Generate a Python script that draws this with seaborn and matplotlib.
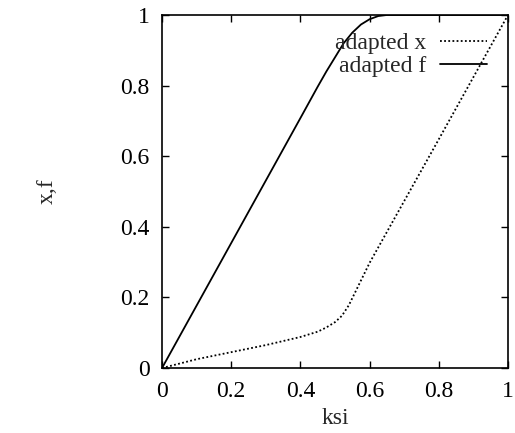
import matplotlib
matplotlib.use("Agg")
import matplotlib.pyplot as plt
import pandas as pd
import seaborn as sns

# values
ksi_f = [0.0, 0.1, 0.2, 0.3, 0.4, 0.45, 0.475, 0.5, 0.525, 0.55, 0.575, 0.6, 0.625, 0.65, 1.0]
adapted_f = [0.0, 0.177, 0.354, 0.531, 0.708, 0.797, 0.84, 0.88, 0.92, 0.95, 0.973, 0.988, 0.997, 1.0, 1.0]

ksi_x = [0.0, 0.1, 0.2, 0.3, 0.4, 0.45, 0.475, 0.5, 0.52, 0.54, 0.56, 0.58, 0.6, 0.7, 0.8, 0.9, 1.0]
adapted_x = [0.0, 0.025, 0.045, 0.065, 0.088, 0.103, 0.115, 0.13, 0.148, 0.178, 0.218, 0.258, 0.298, 0.473, 0.648, 0.824, 1.0]

ticks = [0, 0.2, 0.4, 0.6, 0.8, 1]
tick_labels = ["0", "0.2", "0.4", "0.6", "0.8", "1"]

sns.set_style("ticks")
plt.rcParams['font.family'] = ['Liberation Serif', 'DejaVu Serif']

fs = 17

df_x = pd.DataFrame({'ksi': ksi_x, 'val': adapted_x})
df_f = pd.DataFrame({'ksi': ksi_f, 'val': adapted_f})

fig = plt.figure(figsize=(5.15, 4.33), dpi=100)
ax = fig.add_axes([0.3146, 0.150, 0.6718, 0.8154])

sns.lineplot(data=df_x, x='ksi', y='val', ax=ax, color='black', lw=1.3,
             linestyle=(0, (1, 1.3)), label='adapted x')
sns.lineplot(data=df_f, x='ksi', y='val', ax=ax, color='black', lw=1.3,
             label='adapted f')

ax.set_xlim(0, 1)
ax.set_ylim(0, 1)
ax.set_xticks(ticks)
ax.set_xticklabels(tick_labels)
ax.set_yticks(ticks)
ax.set_yticklabels(tick_labels)
ax.tick_params(direction='in', length=5, width=1, top=True, right=True,
               labelsize=fs, pad=9, colors='black')
for s in ax.spines.values():
    s.set_linewidth(1.2)
    s.set_color('black')

ax.set_xlabel("ksi", fontsize=fs, labelpad=5)
ax.set_ylabel("x,f", fontsize=fs, labelpad=45)

ax.legend(loc='upper right', bbox_to_anchor=(0.94, 0.95), frameon=False,
          markerfirst=False, fontsize=fs, handlelength=2.0, handletextpad=0.6,
          borderpad=0, borderaxespad=0, labelspacing=0.05)

fig.savefig("out.png", dpi=100)
